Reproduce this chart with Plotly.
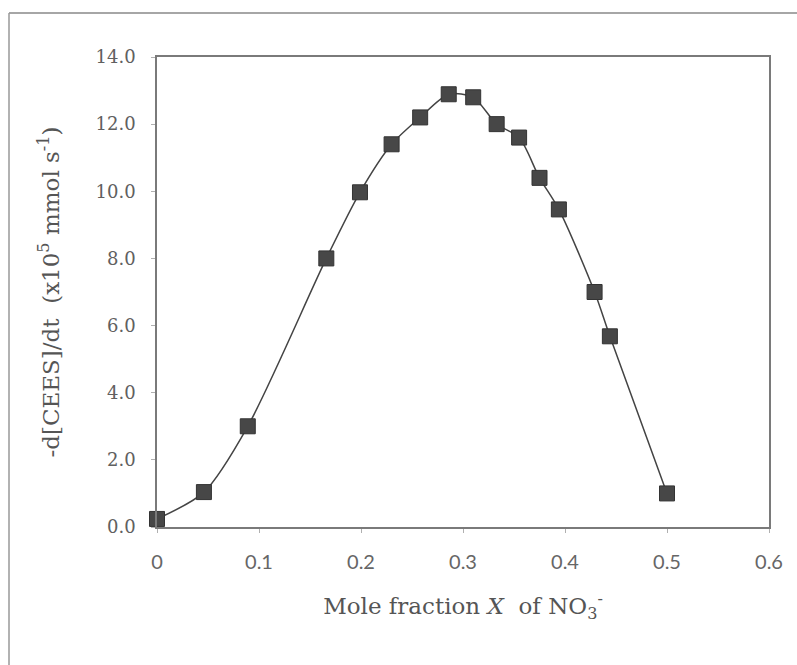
import plotly.graph_objects as go

mole_fraction = [0.0, 0.046, 0.089, 0.166, 0.199, 0.230, 0.258, 0.286, 0.310, 0.333, 0.355, 0.375, 0.394, 0.429, 0.444, 0.500]
rate = [0.24, 1.04, 3.0, 8.0, 9.97, 11.4, 12.2, 12.89, 12.8, 12.0, 11.6, 10.4, 9.46, 7.0, 5.68, 1.0]

x_ticks = [0, 0.1, 0.2, 0.3, 0.4, 0.5, 0.6]
x_tick_labels = ["0", "0.1", "0.2", "0.3", "0.4", "0.5", "0.6"]
y_ticks = [0, 2, 4, 6, 8, 10, 12, 14]
y_tick_labels = ["0.0", "2.0", "4.0", "6.0", "8.0", "10.0", "12.0", "14.0"]

fig = go.Figure()
fig.add_trace(go.Scatter(
    x=mole_fraction, y=rate, mode="lines+markers",
    line=dict(color="#444444", width=1.5, shape="spline", smoothing=0.8),
    marker=dict(symbol="square", size=15, color="#474747",
                line=dict(color="#333333", width=1)),
    showlegend=False, cliponaxis=False,
))

axis_color = "#7a7a7a"
font_serif = "DejaVu Serif"

W, H = 797, 665
L, T, PW, PH = 157, 57, 612, 470

fig.update_layout(
    width=W, height=H,
    margin=dict(l=L, r=W - L - PW, t=T, b=H - T - PH),
    paper_bgcolor="white", plot_bgcolor="white",
    font=dict(family=font_serif, color="#555555"),
    xaxis=dict(
        range=[0, 0.6], tickvals=x_ticks, ticktext=x_tick_labels,
        showline=True, linecolor=axis_color, linewidth=1.5, mirror=True,
        showgrid=False, zeroline=False,
        ticks="outside", ticklen=4, tickcolor="#b0b0b0",
        ticklabelstandoff=12,
        tickfont=dict(family="Lato", size=20, color="#666666"),
        title=dict(text="Mole fraction <i>X</i>  of NO<sub>3</sub><sup>-</sup>",
                   font=dict(family=font_serif, size=23, color="#555555"),
                   standoff=26),
    ),
    yaxis=dict(
        range=[0, 14], tickvals=y_ticks, ticktext=y_tick_labels,
        showline=True, linecolor=axis_color, linewidth=1.5, mirror=True,
        showgrid=False, zeroline=False,
        ticks="outside", ticklen=4, tickcolor="#b0b0b0",
        ticklabelstandoff=12,
        tickfont=dict(family=font_serif, size=18, color="#606060"),
        title=dict(text="-d[CEES]/dt  (x10<sup>5</sup> mmol s<sup>-1</sup>)",
                   font=dict(family=font_serif, size=23, color="#555555"),
                   standoff=30),
    ),
    shapes=[
        dict(type="line", xref="paper", yref="paper",
             x0=(9 - L) / PW, x1=(W - L) / PW, y0=1 + 44 / PH, y1=1 + 44 / PH,
             line=dict(color="#888888", width=1.5)),
        dict(type="line", xref="paper", yref="paper",
             x0=(9 - L) / PW, x1=(9 - L) / PW, y0=1 + 44 / PH, y1=-(H - T - PH) / PH,
             line=dict(color="#999999", width=1.5)),
    ],
)

fig.write_html(
    "out.html",
    config={"displayModeBar": False},
    post_script="document.body.style.margin='0';document.body.style.overflow='hidden';",
)
